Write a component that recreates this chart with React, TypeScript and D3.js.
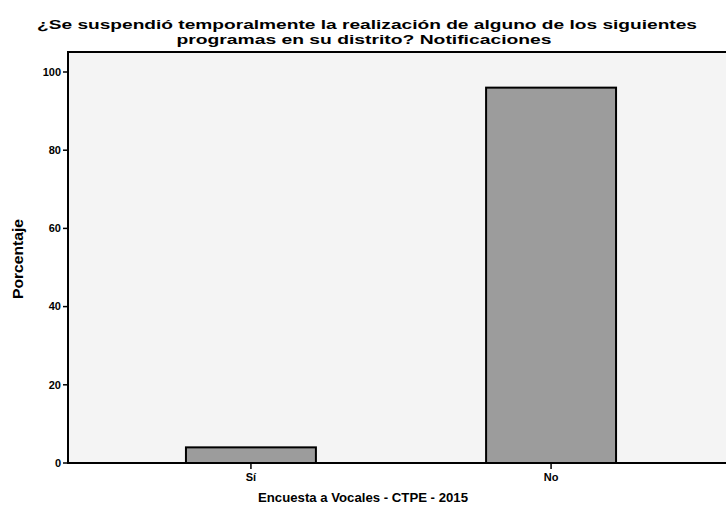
import React from "react";
import * as d3 from "d3";

const categories = ["Sí", "No"];
const values = [4, 96];
const yTicks = [0, 20, 40, 60, 80, 100];
const title1 = "¿Se suspendió temporalmente la realización de alguno de los siguientes";
const title2 = "programas en su distrito? Notificaciones";
const yLabel = "Porcentaje";
const xLabel = "Encuesta a Vocales - CTPE - 2015";

const W = 726;
const H = 511;
const left = 68;
const right = 734;
const top = 52;
const bottom = 463;

export default function App() {
  const x = d3.scaleBand<string>().domain(categories).range([left, right]).paddingInner(0.567).paddingOuter(0.393);
  const y = d3.scaleLinear().domain([0, 100]).range([bottom, 72]);
  const font = "'Liberation Sans', Arial, sans-serif";
  return (
    <svg width={W} height={H} style={{ position: "absolute", left: 0, top: 0, background: "#fff" }}>
      <rect x={left} y={top} width={right - left} height={bottom - top} fill="#f4f4f4" stroke="#000" strokeWidth={2} />
      {categories.map((c, i) => (
        <rect key={c} x={x(c)} y={y(values[i])} width={x.bandwidth()} height={bottom - y(values[i])}
          fill="#9c9c9c" stroke="#000" strokeWidth={2} />
      ))}
      <line x1={left} x2={right} y1={bottom} y2={bottom} stroke="#000" strokeWidth={2} />
      <line x1={left} x2={left} y1={top} y2={bottom} stroke="#000" strokeWidth={2} />
      {yTicks.map((t) => (
        <g key={t}>
          <line x1={left - 5} x2={left} y1={y(t)} y2={y(t)} stroke="#000" strokeWidth={1.5} />
          <text x={left - 7} y={y(t)} dy="0.35em" textAnchor="end" fontFamily={font} fontWeight="bold" fontSize={11}>{t}</text>
        </g>
      ))}
      {categories.map((c) => (
        <g key={c}>
          <line x1={x(c)! + x.bandwidth() / 2} x2={x(c)! + x.bandwidth() / 2} y1={bottom} y2={bottom + 6} stroke="#000" strokeWidth={1.5} />
          <text x={x(c)! + x.bandwidth() / 2} y={bottom + 18} textAnchor="middle" fontFamily={font} fontWeight="bold" fontSize={11}>{c}</text>
        </g>
      ))}
      <text x={367} y={29} textAnchor="middle" fontFamily={font} fontWeight="bold" fontSize={13.5}
        textLength={660} lengthAdjust="spacingAndGlyphs">{title1}</text>
      <text x={364} y={44} textAnchor="middle" fontFamily={font} fontWeight="bold" fontSize={13.5}
        textLength={375} lengthAdjust="spacingAndGlyphs">{title2}</text>
      <text transform={`translate(23,259) rotate(-90)`} textAnchor="middle" fontFamily={font} fontWeight="bold" fontSize={14}
        textLength={80} lengthAdjust="spacingAndGlyphs">{yLabel}</text>
      <text x={363} y={502} textAnchor="middle" fontFamily={font} fontWeight="bold" fontSize={13}
        textLength={210} lengthAdjust="spacingAndGlyphs">{xLabel}</text>
    </svg>
  );
}
